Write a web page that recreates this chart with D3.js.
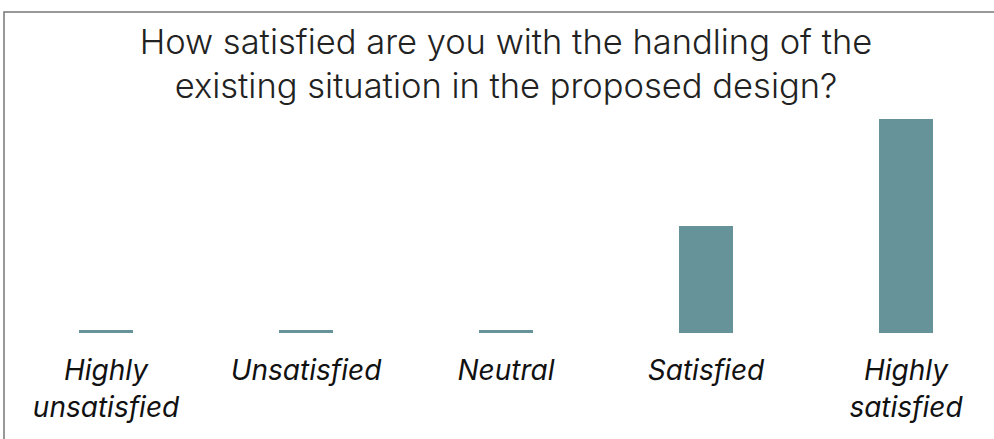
<!DOCTYPE html>
<html>
<head>
<meta charset="utf-8">
<script src="https://cdn.jsdelivr.net/npm/d3@7"></script>
<style>
  html, body { margin: 0; padding: 0; background: #fff; }
  svg { display: block; }
</style>
</head>
<body>
<svg id="chart" width="994" height="439"></svg>
<script>
const categories = [["Highly", "unsatisfied"], ["Unsatisfied"], ["Neutral"], ["Satisfied"], ["Highly", "satisfied"]];
const values = [0, 0, 0, 1, 2];
const titleLines = ["How satisfied are you with the handling of the", "existing situation in the proposed design?"];

const W = 994, H = 439;
const svg = d3.select("#chart");

// frame
svg.append("path")
  .attr("d", `M4,${H} L4,12 L${W},12`)
  .attr("fill", "none")
  .attr("stroke", "#777")
  .attr("stroke-width", 1.5);

// title
const title = svg.append("text")
  .attr("text-anchor", "middle")
  .attr("font-family", "Inter, sans-serif")
  .attr("font-weight", 300)
  .attr("font-size", 34.5)
  .attr("fill", "#222");
titleLines.forEach((t, i) => {
  title.append("tspan").attr("x", 506).attr("y", 54 + i * 44).text(t);
});

const keys = categories.map(c => c.join(" "));
const x = d3.scaleBand().domain(keys).range([6, 1006]).paddingInner(0.73).paddingOuter(0.365);
const y = d3.scaleLinear().domain([0, 2]).range([333, 119]);
const minH = 3;

svg.append("g").selectAll("rect")
  .data(values)
  .join("rect")
  .attr("x", (d, i) => x(keys[i]))
  .attr("width", x.bandwidth())
  .attr("y", d => Math.min(y(d), y(0) - minH))
  .attr("height", d => Math.max(y(0) - y(d), minH))
  .attr("fill", "#66939a");

// category labels
const lab = svg.append("g")
  .attr("font-family", "Inter, sans-serif")
  .attr("font-style", "italic")
  .attr("font-size", 28)
  .attr("fill", "#111")
  .attr("text-anchor", "middle");
categories.forEach((c, i) => {
  const t = lab.append("text");
  c.forEach((line, j) => {
    t.append("tspan")
      .attr("x", x(keys[i]) + x.bandwidth() / 2)
      .attr("y", 380 + j * 37)
      .text(line);
  });
});
</script>
</body>
</html>
